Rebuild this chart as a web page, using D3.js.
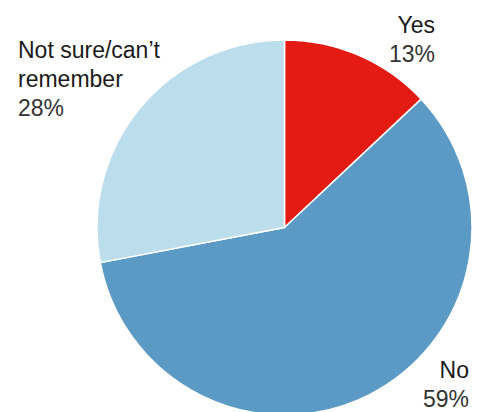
<!DOCTYPE html>
<html>
<head>
<meta charset="utf-8">
<script src="https://cdn.jsdelivr.net/npm/d3@7"></script>
<style>
  html, body { margin: 0; padding: 0; background: #fff; }
  svg { display: block; }
  text { font-family: "Liberation Sans", Arial, Helvetica, sans-serif; }
</style>
</head>
<body>
<svg id="chart" width="478" height="412"></svg>
<script>
// Survey answers, share of respondents (%)
const categories = ["Yes", "No", "Not sure/can\u2019t remember"];
const values = [13, 59, 28];
const colors = ["#e31b12", "#5b9ac4", "#bcdeec"];

const svg = d3.select("#chart");
const cx = 284.5, cy = 227.5, r = 187.5;

const pie = d3.pie().sort(null).value(d => d.value);
const arc = d3.arc().innerRadius(0).outerRadius(r);

const data = categories.map((c, i) => ({ name: c, value: values[i], color: colors[i] }));

const g = svg.append("g").attr("transform", `translate(${cx},${cy})`);
g.selectAll("path")
  .data(pie(data))
  .join("path")
  .attr("d", arc)
  .attr("fill", d => d.data.color)
  .attr("stroke", "#fff")
  .attr("stroke-width", 1.5)
  .attr("stroke-linejoin", "round");

// Labels: name lines then percentage
const labels = [
  { lines: ["Yes"], x: 435, y: 33, anchor: "end" },
  { lines: ["No"], x: 469, y: 378, anchor: "end" },
  { lines: ["Not sure/can\u2019t", "remember"], x: 18, y: 58, anchor: "start" }
];
const lineH = 29;

labels.forEach((l, i) => {
  const t = svg.append("text")
    .attr("x", l.x)
    .attr("y", l.y)
    .attr("text-anchor", l.anchor)
    .attr("font-size", 23);
  l.lines.forEach((s, j) => {
    t.append("tspan").attr("x", l.x).attr("dy", j === 0 ? 0 : lineH)
      .attr("fill", "#1a1a1a").text(s);
  });
  t.append("tspan").attr("x", l.x).attr("dy", lineH)
    .attr("fill", "#333").text(values[i] + "%");
});
</script>
</body>
</html>
